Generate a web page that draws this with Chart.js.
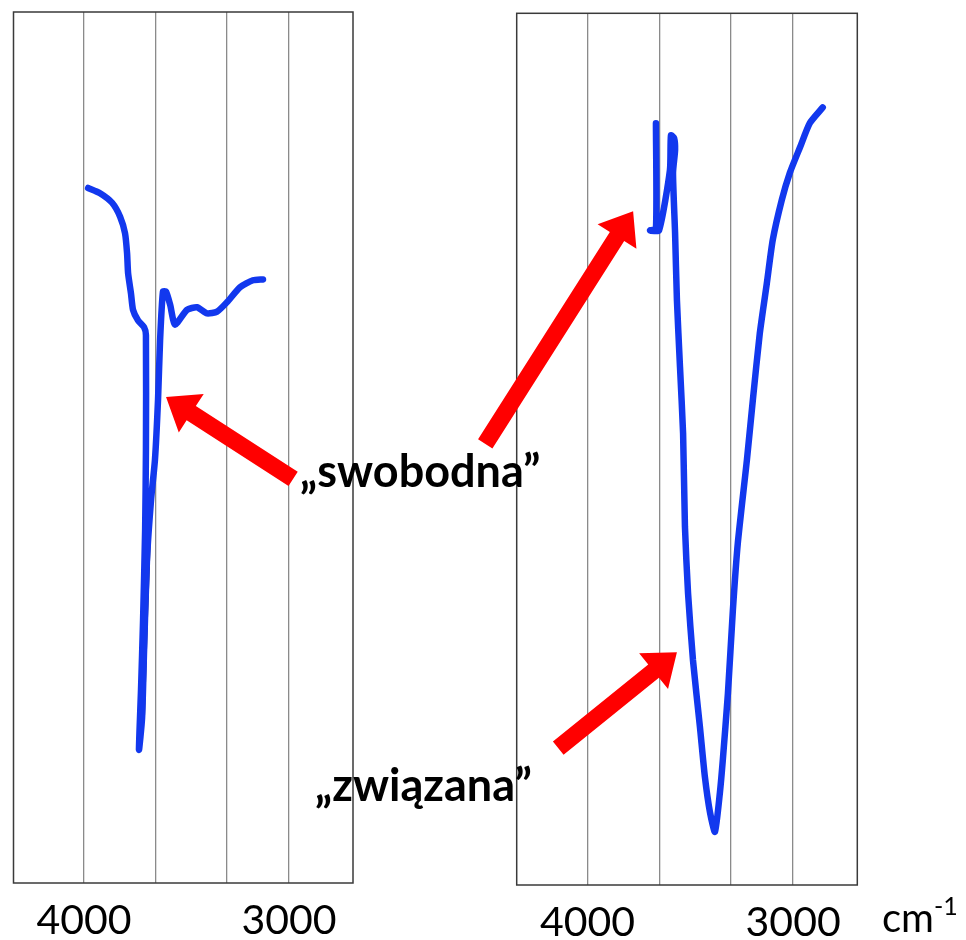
<!DOCTYPE html>
<html lang="pl">
<head>
<meta charset="utf-8">
<title>Widmo IR – grupa OH</title>
<script src="https://cdn.jsdelivr.net/npm/chart.js@4.4.1/dist/chart.umd.min.js"></script>
<style>
  html, body { margin: 0; padding: 0; background: #fff; }
  body { width: 966px; height: 940px; position: relative; overflow: hidden; font-family: Lato, "Open Sans", sans-serif; }
  canvas { position: absolute; }
  #leftChart { left: 0; top: 0; }
  #rightChart { left: 360px; top: 2px; }
  .label { position: absolute; font-weight: bold; font-size: 45px; line-height: 46px; color: #000; white-space: nowrap; }
  #unit { position: absolute; left: 882px; top: 897px; font-size: 40px; line-height: 40px; color: #000; }
  #unit span { position: relative; top: -17px; font-size: 25px; }
</style>
</head>
<body>
<canvas id="leftChart" width="440" height="958"></canvas>
<canvas id="rightChart" width="606" height="958"></canvas>
<div class="label" style="left:300px; top:447px;">„swobodna”</div>
<div class="label" style="left:315px; top:761px;">„związana”</div>
<div id="unit">cm<span>-1</span></div>

<script>
// Widmo 1 - grupa OH "swobodna" (liczba falowa cm-1, transmitancja %)
const wn1 = [3980, 3922, 3863, 3824, 3800, 3790, 3785, 3771, 3761, 3737, 3707, 3698,
  3698, 3702, 3712, 3722, 3732, 3717, 3707, 3693, 3673, 3654, 3639, 3629, 3615, 3600,
  3580, 3556, 3498, 3449, 3400, 3351, 3302, 3239, 3176, 3127];
const t1 = [79.8, 79.2, 78.1, 76.5, 74.6, 72.3, 70.0, 67.7, 65.8, 64.6, 63.8, 62.9,
  49.7, 40.5, 30.2, 22.2, 15.3, 18.9, 26.8, 37.1, 44.0, 48.6, 55.5, 62.3, 67.9, 67.9,
  66.4, 64.1, 65.8, 66.1, 65.4, 65.6, 66.7, 68.4, 69.2, 69.3];
// ciemny slad w srodku pasma
const wn1dark = [3683, 3698, 3712];
const t1dark = [40.0, 30.2, 19.3];

// Widmo 2 - grupa OH "zwiazana"
const wn2 = [3667, 3667, 3696, 3652, 3599, 3594, 3579, 3574, 3584, 3574, 3565, 3550,
  3535, 3526, 3511, 3487, 3453, 3429, 3404, 3380, 3356, 3342, 3317, 3293, 3269, 3225,
  3196, 3162, 3128, 3099, 3055, 3016, 2967, 2919, 2856];
const t2 = [87.4, 75.3, 75.1, 75.1, 82.0, 86.0, 85.7, 84.3, 81.7, 74.8, 67.1, 59.4,
  51.8, 41.1, 33.5, 25.8, 18.1, 12.4, 8.3, 6.1, 10.6, 14.3, 22.0, 31.5, 39.2, 48.7,
  55.6, 63.3, 69.0, 74.0, 78.6, 81.7, 84.6, 87.4, 89.2];

// os X
const xTicks = [4000, 3650, 3305, 3000];
const xLabels = ["4000", "", "", "3000"];

// strzalki [od x, od y, do x, do y] w jednostkach danych
const arrows1 = [[2980, 46.4, 3600, 55.8]];
const arrows2 = [[4497, 50.6, 3778, 77.3], [4142, 15.7, 3565, 26.7]];

const BLUE = "#1238ee";

const toPoints = (xs, ys) => xs.map((x, i) => ({ x, y: ys[i] }));

const drawArrow = (ctx, x0, y0, x1, y1) => {
  const dx = x1 - x0, dy = y1 - y0;
  const len = Math.hypot(dx, dy);
  const ux = dx / len, uy = dy / len;
  const nx = -uy, ny = ux;
  const sw = 8.5, hw = 23, hl = 30;
  const bx = x1 - ux * hl, by = y1 - uy * hl;
  ctx.beginPath();
  ctx.moveTo(x0 + nx * sw, y0 + ny * sw);
  ctx.lineTo(bx + nx * sw, by + ny * sw);
  ctx.lineTo(bx + nx * hw, by + ny * hw);
  ctx.lineTo(x1, y1);
  ctx.lineTo(bx - nx * hw, by - ny * hw);
  ctx.lineTo(bx - nx * sw, by - ny * sw);
  ctx.lineTo(x0 - nx * sw, y0 - ny * sw);
  ctx.closePath();
  ctx.fillStyle = "#ff0000";
  ctx.fill();
};

// ramka wykresu + strzalki
const framePlugin = (arrows) => ({
  id: "frameArrows",
  afterDraw(chart) {
    const { ctx, chartArea: a, scales } = chart;
    ctx.save();
    ctx.strokeStyle = "#3a3a3a";
    ctx.lineWidth = 1.5;
    ctx.strokeRect(a.left, a.top, a.right - a.left, a.bottom - a.top);
    arrows.forEach(([x0, y0, x1, y1]) => {
      drawArrow(ctx,
        scales.x.getPixelForValue(x0), scales.y.getPixelForValue(y0),
        scales.x.getPixelForValue(x1), scales.y.getPixelForValue(y1));
    });
    ctx.restore();
  }
});

const lineSet = (data, color, width) => ({
  data,
  showLine: true,
  borderColor: color,
  borderWidth: width,
  pointRadius: 0,
  tension: 0.2,
  borderCapStyle: "round",
  borderJoinStyle: "round",
});

const makeChart = (id, datasets, padding, arrows) => {
  const ctx = document.getElementById(id).getContext("2d");
  return new Chart(ctx, {
    type: "scatter",
    data: { datasets },
    options: {
      responsive: false,
      animation: false,
      layout: { padding },
      plugins: { legend: { display: false }, tooltip: { enabled: false } },
      scales: {
        x: {
          type: "linear",
          reverse: true,
          min: 2688,
          max: 4344,
          afterBuildTicks: (scale) => { scale.ticks = xTicks.map((v) => ({ value: v })); },
          ticks: {
            autoSkip: false,
            maxRotation: 0,
            padding: 17,
            color: "#000",
            font: { family: "Lato", size: 41, lineHeight: 1 },
            callback: (v) => xLabels[xTicks.indexOf(v)] ?? "",
          },
          grid: { color: "#8a8a8a", lineWidth: 1.3, drawTicks: false },
          border: { display: false },
        },
        y: { min: 0, max: 100, display: false },
      },
    },
    plugins: [framePlugin(arrows)],
  });
};

makeChart("leftChart", [
  lineSet(toPoints(wn1, t1), BLUE, 6.5),
  lineSet(toPoints(wn1dark, t1dark), "#1b1b3a", 4),
], { left: 13.5, right: 87, top: 12, bottom: 0 }, arrows1);

makeChart("rightChart", [
  lineSet(toPoints(wn2, t2), BLUE, 6.5),
], { left: 156.7, right: 108.7, top: 11.3, bottom: 0 }, arrows2);
</script>
</body>
</html>
